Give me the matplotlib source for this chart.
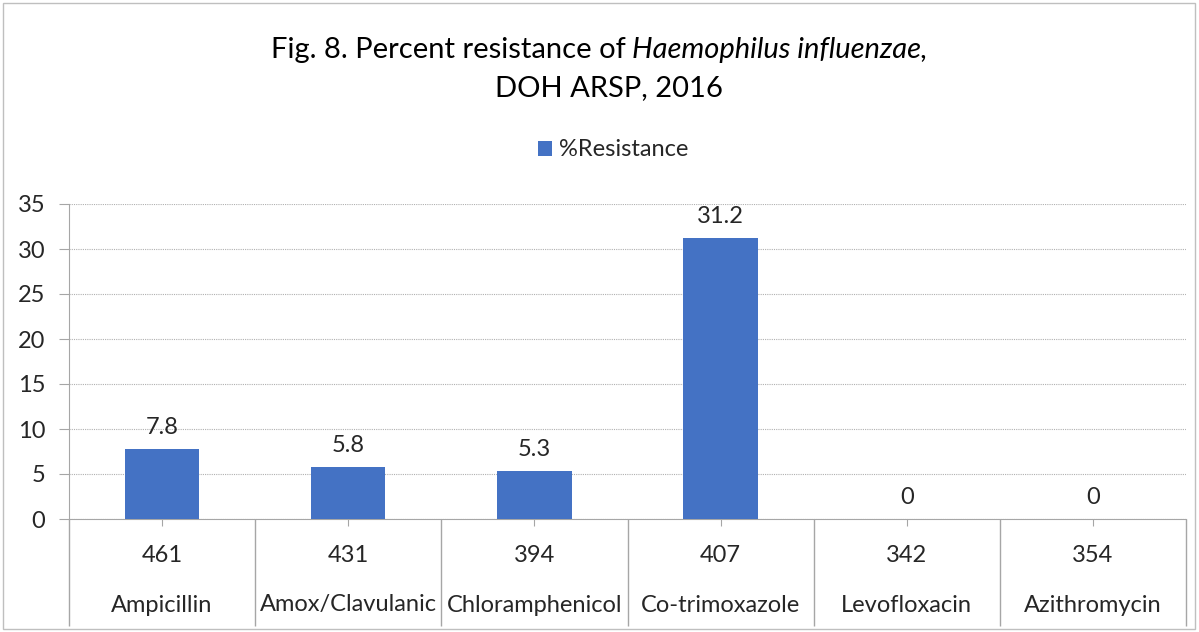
import matplotlib.pyplot as plt
import matplotlib.transforms as mtransforms
from matplotlib.patches import Rectangle
import numpy as np

plt.rcParams['font.family'] = ['Lato', 'DejaVu Sans']

drugs = ['Ampicillin', 'Amox/Clavulanic', 'Chloramphenicol', 'Co-trimoxazole', 'Levofloxacin', 'Azithromycin']
n_isolates = ['461', '431', '394', '407', '342', '354']
resistance = [7.8, 5.8, 5.3, 31.2, 0, 0]

x = np.arange(len(drugs))
txt = '#262626'
grey = '#a6a6a6'
fs = 17

fig = plt.figure(figsize=(11.99, 6.32), dpi=100)
ax = fig.add_axes([69 / 1199, 1 - 519 / 632, (1186 - 69) / 1199, (519 - 204) / 632])

bars = ax.bar(x, resistance, width=0.4, color='#4472c4', label='%Resistance', zorder=3)
ax.bar_label(bars, labels=['{:g}'.format(v) for v in resistance], padding=8, fontsize=fs, color=txt)

ax.set_xlim(-0.5, len(drugs) - 0.5)
ax.set_ylim(0, 35)
ax.set_yticks(np.arange(0, 36, 5))
ax.yaxis.grid(True, color='#b0b0b0', linestyle=(0, (1, 1)), linewidth=0.8, zorder=0)

ax.set_xticks(x)
ax.set_xticklabels(n_isolates)
ax.set_xticks(np.arange(-0.5, len(drugs), 1), minor=True)
ax.tick_params(axis='x', which='major', length=5, color=grey, pad=14, labelsize=fs, labelcolor=txt)
ax.tick_params(axis='x', which='minor', length=77, color=grey, width=1)
ax.tick_params(axis='y', length=7, color=grey, labelsize=fs, labelcolor=txt, pad=10)

# second row of category names
trans = mtransforms.blended_transform_factory(ax.transData, fig.transFigure)
for xi, name in zip(x, drugs):
    ax.text(xi, 1 - 605 / 632, name, transform=trans, ha='center', va='center', fontsize=fs, color=txt)

for s in ['top', 'right']:
    ax.spines[s].set_visible(False)
for s in ['left', 'bottom']:
    ax.spines[s].set_color(grey)

# title with italic species name
fig.text(626 / 1199, 1 - 50 / 632, 'Fig. 8. Percent resistance of', ha='right', va='center', fontsize=21, color='black')
fig.text(632 / 1199, 1 - 50 / 632, 'Haemophilus influenzae,', ha='left', va='center', fontsize=21, style='italic', color='black')
fig.text(609 / 1199, 1 - 88 / 632, 'DOH ARSP, 2016', ha='center', va='center', fontsize=21, color='black')

fig.legend(loc='center', bbox_to_anchor=(613 / 1199, 1 - 150 / 632), frameon=False, fontsize=fs,
           handlelength=0.6, handleheight=0.6, handletextpad=0.3, labelcolor=txt)

fig.patches.append(Rectangle((3 / 1199, 3 / 632), 1192 / 1199, 626 / 632, transform=fig.transFigure,
                             fill=False, edgecolor='#bfbfbf', linewidth=1))

plt.savefig('out.png', dpi=100)
